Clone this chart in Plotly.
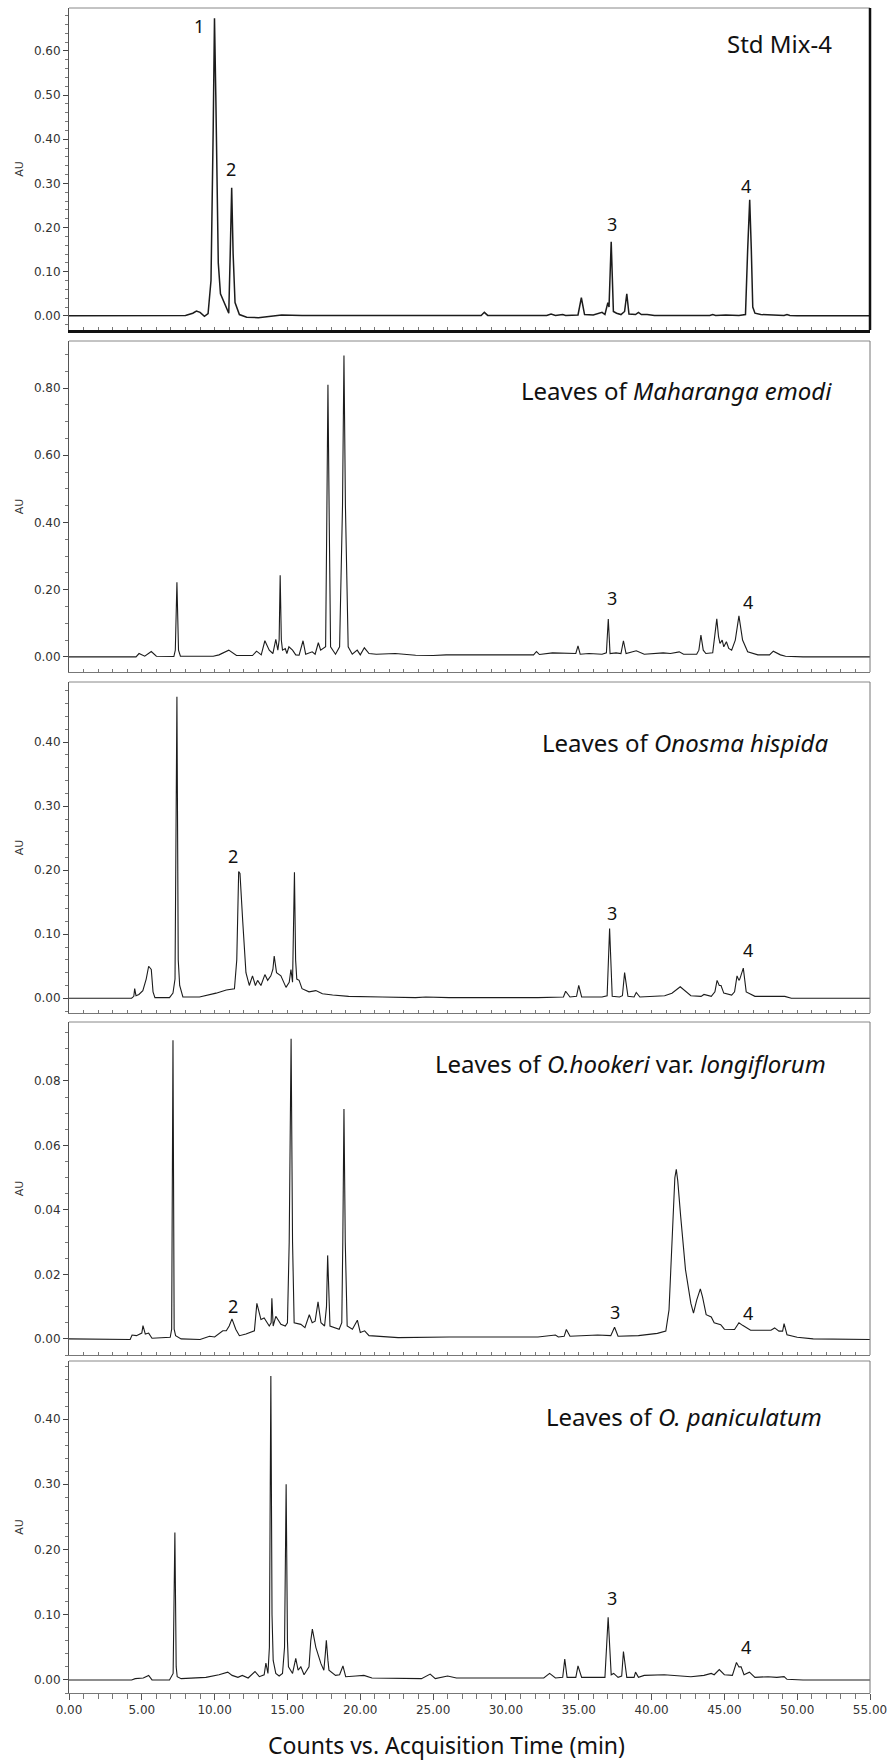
import plotly.graph_objects as go

# ---------------- data (retention time in min, absorbance in AU) ----------------
std_mix4 = [(0,0),(7.0,0),(8.0,0.001),(8.5,0.006),(8.75,0.011),(9.0,0.008),(9.3,-0.001),(9.55,0.005),
    (9.75,0.08),(9.9,0.42),(9.99,0.674),(10.08,0.5),(10.15,0.3),(10.25,0.12),(10.4,0.05),(10.6,0.035),
    (10.85,0.012),(10.97,0.006),(11.07,0.14),(11.17,0.29),(11.27,0.14),(11.4,0.03),(11.7,0.003),
    (12.2,-0.003),(13.0,-0.004),(14.6,0.002),(16,0.001),(20,0.001),(25,0.001),(28.3,0.001),(28.52,0.008),
    (28.75,0.001),(32.8,0.001),(33.1,0.004),(33.4,0.001),(33.9,0.003),(34.1,0.001),(34.95,0.002),
    (35.18,0.041),(35.4,0.003),(36.0,0.002),(36.6,0.008),(36.8,0.003),(37.0,0.03),(37.08,0.02),
    (37.23,0.168),(37.38,0.01),(37.6,0.006),(37.9,0.003),(38.15,0.01),(38.3,0.05),(38.45,0.004),
    (38.9,0.003),(39.1,0.008),(39.3,0.003),(39.7,0.003),(40.2,0.001),(40.97,0.002),(41.3,0.001),
    (44.0,0.001),(44.2,0.003),(44.4,0.001),(45.1,0.002),(46.0,0.001),(46.45,0.003),(46.6,0.15),
    (46.74,0.263),(46.85,0.15),(46.95,0.02),(47.1,0.006),(47.5,0.003),(49.1,0.001),(49.3,0.003),
    (49.5,0.001),(50,0),(55,0)]

maharanga = [(0,0),(4.6,0),(4.81,0.01),(5.2,0.002),(5.65,0.016),(6.0,0.002),(7.2,0.001),(7.3,0.02),
    (7.41,0.222),(7.52,0.02),(7.65,0.002),(9.9,0.002),(10.3,0.006),(10.97,0.02),(11.5,0.004),(12.6,0.004),
    (12.88,0.017),(13.2,0.006),(13.45,0.048),(13.75,0.02),(14.0,0.01),(14.2,0.052),(14.34,0.02),
    (14.43,0.05),(14.5,0.243),(14.58,0.05),(14.66,0.02),(14.85,0.025),(14.96,0.01),(15.1,0.03),
    (15.35,0.02),(15.57,0.006),(15.8,0.005),(16.07,0.048),(16.25,0.008),(16.7,0.015),(16.9,0.008),
    (17.12,0.042),(17.28,0.02),(17.5,0.025),(17.62,0.03),(17.7,0.4),(17.78,0.81),(17.87,0.4),
    (17.96,0.03),(18.3,0.008),(18.58,0.03),(18.78,0.45),(18.88,0.897),(18.98,0.45),(19.17,0.03),
    (19.45,0.008),(19.79,0.02),(20.0,0.006),(20.28,0.027),(20.6,0.01),(21.1,0.008),(22.4,0.01),
    (23.8,0.005),(25.0,0.004),(25.9,0.006),(27.7,0.006),(29.5,0.006),(30.9,0.008),(31.9,0.006),
    (32.1,0.016),(32.3,0.007),(33.2,0.012),(34.0,0.01),(34.8,0.01),(34.95,0.033),(35.1,0.008),
    (35.7,0.01),(36.6,0.008),(36.9,0.012),(37.03,0.113),(37.15,0.01),(37.56,0.012),(37.9,0.01),
    (38.07,0.048),(38.25,0.01),(38.95,0.018),(39.5,0.008),(40.8,0.012),(41.3,0.01),(41.9,0.015),
    (42.2,0.008),(43.1,0.008),(43.25,0.02),(43.39,0.065),(43.55,0.02),(43.73,0.01),(44.2,0.012),
    (44.3,0.05),(44.48,0.113),(44.6,0.06),(44.7,0.04),(44.85,0.05),(44.96,0.03),(45.14,0.045),
    (45.3,0.025),(45.5,0.02),(45.75,0.05),(46.0,0.122),(46.25,0.05),(46.6,0.015),(47.3,0.006),
    (48.1,0.006),(48.36,0.017),(48.85,0.006),(49.2,0.002),(50.4,0),(55,0)]

onosma_hispida = [(0,0),(4.3,0),(4.45,0.003),(4.51,0.015),(4.6,0.004),(4.8,0.006),(5.07,0.012),(5.3,0.03),
    (5.47,0.05),(5.65,0.045),(5.77,0.01),(5.9,0.001),(6.9,0.001),(7.14,0.008),(7.28,0.03),(7.41,0.471),
    (7.5,0.06),(7.6,0.02),(7.82,0.002),(8.96,0.002),(10.1,0.008),(10.8,0.013),(11.36,0.015),(11.52,0.06),
    (11.65,0.198),(11.74,0.195),(11.93,0.12),(12.15,0.04),(12.38,0.02),(12.6,0.035),(12.8,0.02),
    (12.95,0.028),(13.18,0.02),(13.45,0.037),(13.64,0.028),(13.86,0.035),(14.0,0.045),(14.09,0.066),
    (14.25,0.04),(14.55,0.035),(14.9,0.017),(15.12,0.025),(15.24,0.045),(15.35,0.025),(15.48,0.197),
    (15.56,0.06),(15.64,0.03),(15.8,0.028),(16.0,0.015),(16.48,0.01),(16.95,0.012),(17.4,0.007),
    (18.1,0.005),(19.2,0.003),(21.5,0.002),(23.8,0.001),(24.5,0.002),(26.1,0.001),(32.2,0.001),
    (33.3,0.002),(33.95,0.002),(34.1,0.011),(34.4,0.002),(34.85,0.003),(35.0,0.02),(35.2,0.002),
    (36.6,0.002),(36.95,0.004),(37.12,0.109),(37.3,0.003),(37.8,0.002),(38.0,0.004),(38.15,0.04),
    (38.38,0.003),(38.8,0.002),(38.95,0.009),(39.2,0.002),(40.9,0.004),(41.4,0.008),(41.97,0.018),
    (42.7,0.004),(43.4,0.003),(43.6,0.006),(44.1,0.003),(44.35,0.01),(44.5,0.028),(44.65,0.02),
    (44.77,0.02),(44.96,0.008),(45.5,0.005),(45.7,0.01),(45.87,0.035),(46.0,0.028),(46.06,0.03),
    (46.3,0.047),(46.5,0.01),(47.1,0.003),(49.15,0.003),(49.6,0),(55,0)]

o_hookeri = [(0,0),(4.2,-0.0002),(4.33,0.0012),(4.63,0.001),(5.0,0.0018),(5.08,0.0041),(5.24,0.0015),
    (5.47,0.0018),(5.7,0.0002),(6.45,0.0004),(6.95,0.0005),(7.05,0.003),(7.14,0.0926),(7.22,0.003),
    (7.32,0.001),(7.7,0),(9.0,-0.0002),(9.65,0.0008),(10.0,0.0006),(10.56,0.0025),(10.8,0.0025),
    (11.0,0.004),(11.19,0.0062),(11.45,0.003),(11.7,0.001),(12.15,0.0015),(12.73,0.0025),(12.9,0.011),
    (13.18,0.006),(13.4,0.0065),(13.75,0.004),(13.88,0.005),(13.93,0.0126),(14.02,0.004),(14.2,0.007),
    (14.55,0.0045),(14.85,0.004),(15.0,0.005),(15.12,0.03),(15.25,0.0931),(15.35,0.03),(15.46,0.005),
    (15.92,0.0045),(16.2,0.0035),(16.5,0.0075),(16.7,0.005),(16.9,0.0055),(17.1,0.0115),(17.3,0.005),
    (17.55,0.004),(17.68,0.01),(17.76,0.0259),(17.85,0.008),(17.92,0.004),(18.55,0.003),(18.73,0.005),
    (18.8,0.03),(18.88,0.0713),(18.97,0.03),(19.1,0.004),(19.46,0.003),(19.8,0.0058),(20.0,0.002),
    (20.3,0.0025),(20.6,0.001),(21.3,0.0008),(22.6,0.0004),(26.1,0.0006),(32.2,0.0006),(33.4,0.0012),
    (33.6,0.0006),(34.0,0.0008),(34.15,0.0029),(34.4,0.0008),(36.3,0.0012),(37.2,0.001),(37.46,0.0036),
    (37.7,0.0008),(39.1,0.001),(40.4,0.0017),(40.98,0.0024),(41.2,0.009),(41.43,0.035),(41.6,0.05),
    (41.7,0.0526),(41.8,0.049),(42.0,0.038),(42.33,0.0215),(42.7,0.011),(42.88,0.008),(43.1,0.012),
    (43.35,0.0155),(43.5,0.013),(43.75,0.0075),(44.1,0.0068),(44.3,0.005),(44.75,0.0044),(45.0,0.003),
    (45.7,0.0029),(46.0,0.005),(46.25,0.0042),(46.5,0.0034),(46.8,0.0027),(48.2,0.0027),(48.45,0.0034),
    (48.75,0.0024),(49.0,0.0024),(49.1,0.0047),(49.3,0.0013),(50.0,0.0005),(51.1,0),(55,-0.0002)]

o_paniculatum = [(0,0),(4.3,0),(4.55,0.002),(5.1,0.003),(5.47,0.007),(5.7,0),(6.9,0),(7.15,0.01),
    (7.27,0.226),(7.36,0.02),(7.43,0.005),(7.7,0.002),(9.4,0.004),(10.3,0.008),(10.9,0.012),(11.2,0.007),
    (11.6,0.004),(11.9,0.007),(12.3,0.003),(12.77,0.013),(13.07,0.005),(13.4,0.008),(13.52,0.026),
    (13.66,0.01),(13.76,0.05),(13.86,0.466),(13.94,0.1),(14.02,0.03),(14.2,0.01),(14.43,0.006),
    (14.66,0.01),(14.8,0.05),(14.91,0.3),(15.0,0.06),(15.07,0.02),(15.35,0.01),(15.57,0.033),
    (15.73,0.015),(15.92,0.02),(16.14,0.008),(16.48,0.02),(16.6,0.06),(16.71,0.078),(16.95,0.05),
    (17.3,0.025),(17.5,0.015),(17.6,0.04),(17.67,0.061),(17.78,0.03),(17.85,0.015),(18.3,0.007),
    (18.58,0.008),(18.81,0.0215),(19.0,0.005),(19.7,0.006),(20.25,0.007),(20.8,0.003),(22.6,0.003),
    (24.2,0.002),(24.8,0.009),(25.15,0.002),(26.0,0.006),(26.6,0.003),(29.9,0.003),(32.6,0.003),
    (33.0,0.01),(33.4,0.003),(33.9,0.004),(34.04,0.032),(34.2,0.004),(34.8,0.004),(34.95,0.0215),
    (35.2,0.004),(36.8,0.004),(37.02,0.096),(37.23,0.008),(37.4,0.01),(37.7,0.004),(37.95,0.006),
    (38.07,0.0436),(38.3,0.004),(38.8,0.004),(38.9,0.012),(39.1,0.004),(39.5,0.007),(40.87,0.008),
    (42.7,0.005),(43.6,0.007),(44.1,0.01),(44.3,0.008),(44.65,0.016),(45.0,0.008),(45.55,0.007),
    (45.83,0.0267),(46.0,0.02),(46.15,0.02),(46.35,0.008),(46.72,0.012),(47.1,0.004),(48.0,0.005),
    (48.6,0.004),(49.1,0.005),(49.3,0.001),(50.4,0),(55,0)]

panel_series = [std_mix4, maharanga, onosma_hispida, o_hookeri, o_paniculatum]

panel_titles = ["Std Mix-4",
                "Leaves of <i>Maharanga emodi</i>",
                "Leaves of <i>Onosma hispida</i>",
                "Leaves of <i>O.hookeri</i> var. <i>longiflorum</i>",
                "Leaves of <i>O. paniculatum</i>"]

# peak labels: (label, time, AU)
peak_labels = [
    [("1", 8.9, 0.657), ("2", 11.13, 0.332), ("3", 37.3, 0.208), ("4", 46.5, 0.295)],
    [("3", 37.28, 0.175), ("4", 46.63, 0.162)],
    [("2", 11.24, 0.222), ("3", 37.28, 0.133), ("4", 46.63, 0.076)],
    [("2", 11.24, 0.0103), ("3", 37.5, 0.0082), ("4", 46.63, 0.008)],
    [("3", 37.28, 0.126), ("4", 46.46, 0.051)],
]

y_ranges = [(-0.032, 0.697), (-0.045, 0.940), (-0.023, 0.494), (-0.005, 0.0983), (-0.020, 0.489)]
y_dticks = [0.1, 0.2, 0.1, 0.02, 0.1]
y_minor = [0.02, 0.05, 0.02, 0.005, 0.02]

x_range = (0, 55)

# ---------------- layout geometry (pixels) ----------------
W, H = 895, 1760
ML, MR, MT, MB = 69, 22, 8, 67
PH = H - MT - MB
panel_px = [(8, 330), (341, 672), (682, 1013), (1022, 1355), (1361, 1693)]
title_px = [(837, 43), (837, 390), (833, 742), (831, 1063), (827, 1416)]  # right edge, center y


def ypaper(py):
    return (H - MB - py) / PH


fig = go.Figure()
layout = dict(width=W, height=H, paper_bgcolor="white", plot_bgcolor="white",
              margin=dict(l=ML, r=MR, t=MT, b=MB), showlegend=False,
              font=dict(family="DejaVu Sans", size=12, color="#333"))
annotations = []
shapes = []

for i, pts in enumerate(panel_series):
    n = i + 1
    xs = "x" if n == 1 else f"x{n}"
    ys = "y" if n == 1 else f"y{n}"
    t = [p[0] for p in pts]
    au = [p[1] for p in pts]
    fig.add_trace(go.Scatter(x=t, y=au, mode="lines", xaxis=xs, yaxis=ys,
                             line=dict(color="#1c1c1c", width=1.5 if n == 1 else 1.1),
                             hoverinfo="skip"))
    top, bot = panel_px[i]
    last = (n == 5)
    xa = dict(domain=[0, 1], range=list(x_range), anchor=ys, showgrid=False, zeroline=False,
              showline=True, linecolor="#111" if n == 1 else "#777",
              linewidth=2.5 if n == 1 else 1, mirror=False)
    if last:
        xa.update(ticks="outside", dtick=5, tick0=0, ticklen=6, tickcolor="#555", tickwidth=1,
                  tickformat=".2f", showticklabels=True, tickfont=dict(size=12, color="#333"),
                  minor=dict(dtick=1, ticks="outside", ticklen=5, tickcolor="#777"))
    else:
        xa.update(ticks="inside", dtick=1, tick0=0, ticklen=3, tickcolor="#777", showticklabels=False)
    ya = dict(domain=[ypaper(bot), ypaper(top)], range=list(y_ranges[i]), anchor=xs,
              showgrid=False, zeroline=False, showline=True, linecolor="#555", linewidth=1,
              mirror=False, ticks="outside", ticklen=5, tickcolor="#444", dtick=y_dticks[i], tick0=0,
              tickformat=".2f", tickfont=dict(size=12, color="#333"),
              minor=dict(dtick=y_minor[i], ticks="outside", ticklen=3, tickcolor="#777"),
              title=dict(text="AU", font=dict(size=11, color="#333"), standoff=8))
    layout["xaxis" if n == 1 else f"xaxis{n}"] = xa
    layout["yaxis" if n == 1 else f"yaxis{n}"] = ya

    # frame: top (thin grey) and right edges
    shapes.append(dict(type="line", xref=f"{xs} domain", yref=f"{ys} domain", x0=0, x1=1, y0=1, y1=1,
                       line=dict(color="#888", width=1)))
    shapes.append(dict(type="line", xref=f"{xs} domain", yref=f"{ys} domain", x0=1, x1=1, y0=0, y1=1,
                       line=dict(color="#111" if n == 1 else "#777", width=2.5 if n == 1 else 1)))

    # panel title
    rx, cy = title_px[i]
    annotations.append(dict(text=panel_titles[i], xref="paper", yref="paper",
                            x=(rx - ML) / (W - ML - MR), y=ypaper(cy), xanchor="right", yanchor="middle",
                            showarrow=False, font=dict(family="Noto Sans", size=24, color="#111")))
    # peak labels
    for lab, lt, lv in peak_labels[i]:
        annotations.append(dict(text=lab, x=lt, y=lv, xref=xs, yref=ys, showarrow=False,
                                xanchor="center", yanchor="middle",
                                font=dict(family="Noto Sans", size=18, color="#111")))

annotations.append(dict(text="Counts vs. Acquisition Time (min)", xref="paper", yref="paper",
                        x=(447.5 - ML) / (W - ML - MR), y=ypaper(1745), xanchor="center", yanchor="middle",
                        showarrow=False, font=dict(family="Noto Sans", size=23, color="#111")))

layout["annotations"] = annotations
layout["shapes"] = shapes
fig.update_layout(**layout)
fig.write_html("out.html", config={"displayModeBar": False},
               post_script="document.body.style.margin='0';document.body.style.overflow='hidden';")
